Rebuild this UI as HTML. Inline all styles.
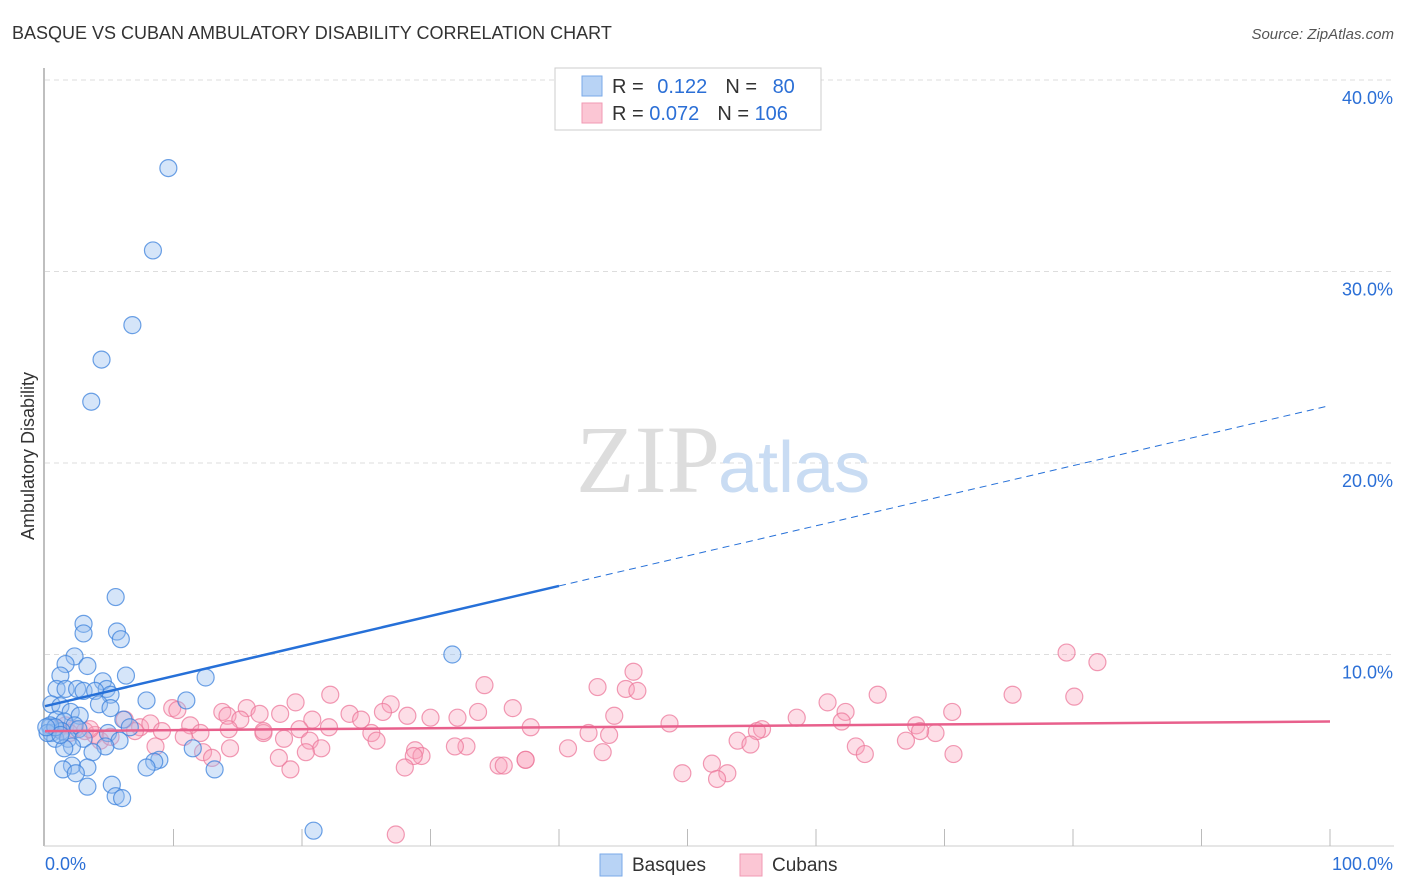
<!DOCTYPE html>
<html><head><meta charset="utf-8"><style>
body{margin:0;background:#fff;font-family:"Liberation Sans",sans-serif;}
svg{display:block}
</style></head><body>
<svg id="chart" width="1406" height="892">
<text x="12" y="39" font-size="18" fill="#333">BASQUE VS CUBAN AMBULATORY DISABILITY CORRELATION CHART</text>
<text x="1394" y="39" font-size="15" fill="#555" font-style="italic" text-anchor="end">Source: ZipAtlas.com</text>
<text x="0" y="0" transform="translate(34,456) rotate(-90)" font-size="18" fill="#333" text-anchor="middle">Ambulatory Disability</text>
<g id="grid"></g>
<text x="720" y="492" font-size="96" fill="#ddd" text-anchor="end" font-family="Liberation Serif,serif">ZIP</text>
<text x="718" y="492" font-size="72" fill="#c9dcf3">atlas</text>
<g id="points"></g>
<g id="lines"></g>
<g>
<rect x="555" y="68" width="266" height="62" fill="#fff" stroke="#ccc"/>
<rect x="582" y="76" width="20" height="20" fill="#b8d3f5" stroke="#7aaae8"/>
<rect x="582" y="103" width="20" height="20" fill="#fbc6d4" stroke="#f09ab3"/>
<text x="612" y="93" font-size="20" fill="#333">R = <tspan fill="#2b6fd6" dx="8">0.122</tspan><tspan dx="18" fill="#333">N = </tspan><tspan dx="10" fill="#2b6fd6">80</tspan></text>
<text x="612" y="120" font-size="20" fill="#333">R = <tspan fill="#2b6fd6">0.072</tspan><tspan dx="18" fill="#333">N = </tspan><tspan fill="#2b6fd6">106</tspan></text>
</g>
<g>
<rect x="600" y="854" width="22" height="22" fill="#b8d3f5" stroke="#7aaae8"/>
<text x="632" y="871" font-size="19" fill="#333">Basques</text>
<rect x="740" y="854" width="22" height="22" fill="#fbc6d4" stroke="#f09ab3"/>
<text x="772" y="871" font-size="19" fill="#333">Cubans</text>
</g>
</svg>
<script>
const yTicks=[10,20,30,40];
const yTickLabels=["10.0%","20.0%","30.0%","40.0%"];
const xTickLabels=["0.0%","100.0%"];
const basqueX=[9.6,8.4,6.8,4.4,3.6,5.5,3.0,3.0,5.6,5.9,31.7,2.3,1.6,3.3,1.2,6.3,12.5,4.5,0.9,1.6,2.5,3.0,4.8,5.1,3.9,7.9,11.0,4.2,5.1,0.5,1.2,2.0,2.7,6.1,0.9,1.5,2.3,0.4,0.5,1.3,2.6,4.9,6.6,0.8,1.8,3.0,2.1,5.8,1.5,11.5,4.7,3.7,8.9,8.5,7.9,2.1,3.3,1.4,13.2,2.4,5.2,3.3,5.5,6.0,20.9,0.4,0.2,0.8,1.2,0.1];
const basqueY=[35.4,31.1,27.2,25.4,23.2,13.0,11.6,11.1,11.2,10.8,10.0,9.9,9.5,9.4,8.9,8.9,8.8,8.6,8.2,8.2,8.2,8.1,8.2,7.9,8.1,7.6,7.6,7.4,7.2,7.4,7.3,7.0,6.8,6.6,6.6,6.5,6.3,6.2,5.9,6.0,6.1,5.9,6.2,5.6,5.6,5.6,5.2,5.5,5.1,5.1,5.2,4.9,4.5,4.4,4.1,4.2,4.1,4.0,4.0,3.8,3.2,3.1,2.6,2.5,0.8,6.3,5.9,6.2,5.8,6.2];
const cubanX=[27.3,79.5,81.9,45.8,43.0,45.2,46.1,34.2,22.2,64.8,75.3,80.1,19.5,60.9,26.9,15.7,9.9,10.3,13.8,62.3,36.4,70.6,14.2,16.7,18.3,26.3,32.1,33.7,28.2,44.3,30.0,23.7,58.5,48.6,24.6,15.2,20.8,11.3,19.8,22.1,37.8,55.8,55.4,67.8,69.3,42.3,43.9,68.1,62.0,6.2,7.4,8.2,9.1,10.8,12.1,14.3,17.0,18.6,20.6,17.0,25.4,25.8,53.9,63.1,67.0,54.9,32.8,31.9,40.7,21.5,20.3,28.8,29.3,18.2,12.3,13.0,28.7,43.4,70.7,63.8,35.3,35.7,37.4,28.0,19.1,49.6,51.9,53.1,52.3,1.6,2.3,3.1,3.9,4.3,1.0,1.9,3.5,5.1,14.4,7.0,8.6,37.4];
const cubanY=[0.6,10.1,9.6,9.1,8.3,8.2,8.1,8.4,7.9,7.9,7.9,7.8,7.5,7.5,7.4,7.2,7.2,7.1,7.0,7.0,7.2,7.0,6.8,6.9,6.9,7.0,6.7,7.0,6.8,6.8,6.7,6.9,6.7,6.4,6.6,6.6,6.6,6.3,6.1,6.2,6.2,6.1,6.0,6.3,5.9,5.9,5.8,6.0,6.5,6.6,6.2,6.4,6.0,5.7,5.9,6.1,5.9,5.6,5.5,6.0,5.9,5.5,5.5,5.2,5.5,5.3,5.2,5.2,5.1,5.1,4.9,5.0,4.7,4.6,4.9,4.6,4.7,4.9,4.8,4.8,4.2,4.2,4.5,4.1,4.0,3.8,4.3,3.8,3.5,6.3,6.1,6.0,5.8,5.5,6.1,5.9,6.1,5.7,5.1,6.0,5.2,4.5];
const blueFit=[7.3,23.0];
const pinkFit=[6.0,6.5];
const X0=45,X1=1330,Y0=846,YPX=19.15;
function sx(v){return X0+(X1-X0)*v/100;}
function sy(v){return Y0-v*YPX;}
const NS="http://www.w3.org/2000/svg";
function mk(tag,attrs,parent){const e=document.createElementNS(NS,tag);for(const k in attrs)e.setAttribute(k,attrs[k]);parent.appendChild(e);return e;}
const grid=document.getElementById('grid');
let ax=mk('line',{x1:44,y1:68,x2:44,y2:846,stroke:'#aaa','stroke-width':1.5},grid);


let bx=mk('line',{x1:44,y1:846,x2:1394,y2:846,stroke:'#ccc','stroke-width':1},grid);


yTicks.forEach((t,i)=>{
 const g=mk('line',{x1:45,x2:1394,y1:sy(t),y2:sy(t),stroke:'#ddd','stroke-dasharray':'5,4'},grid);
 
 
 const tx=mk('text',{x:1393,y:sy(t)+24,'font-size':18,fill:'#2b6fd6','text-anchor':'end'},grid);
 tx.textContent=yTickLabels[i];
 
 
});
for(let i=1;i<=10;i++){
 const t=mk('line',{x1:sx(i*10),x2:sx(i*10),y1:829,y2:846,stroke:'#bbb'},grid);
 
 
}
[[0,45,'start'],[100,1393,'end']].forEach((a,i)=>{
 const tx=mk('text',{x:a[1],y:870,'font-size':18,fill:'#2b6fd6','text-anchor':a[2]},grid);
 tx.textContent=xTickLabels[i];
 
 
});
const pts=document.getElementById('points');
cubanX.forEach((x,i)=>{
 const c=mk('circle',{cx:sx(x),cy:sy(cubanY[i]),r:8.5,fill:'rgba(248,160,186,0.35)',stroke:'rgba(236,120,155,0.75)','stroke-width':1.2},pts);
 
 
});
basqueX.forEach((x,i)=>{
 const c=mk('circle',{cx:sx(x),cy:sy(basqueY[i]),r:8.5,fill:'rgba(150,190,240,0.4)',stroke:'rgba(60,130,220,0.75)','stroke-width':1.2},pts);
 
 
});
const ln=document.getElementById('lines');
const bAt=v=>blueFit[0]+(blueFit[1]-blueFit[0])*v/100;
let l1=mk('line',{x1:sx(0),y1:sy(bAt(0)),x2:sx(40),y2:sy(bAt(40)),stroke:'#2670d8','stroke-width':2.5},ln);


let l2=mk('line',{x1:sx(40),y1:sy(bAt(40)),x2:sx(100),y2:sy(bAt(100)),stroke:'#2670d8','stroke-width':1,'stroke-dasharray':'7,5'},ln);


let l3=mk('line',{x1:sx(0),y1:sy(pinkFit[0]),x2:sx(100),y2:sy(pinkFit[1]),stroke:'#e8608c','stroke-width':2.5},ln);


</script>
</body></html>
